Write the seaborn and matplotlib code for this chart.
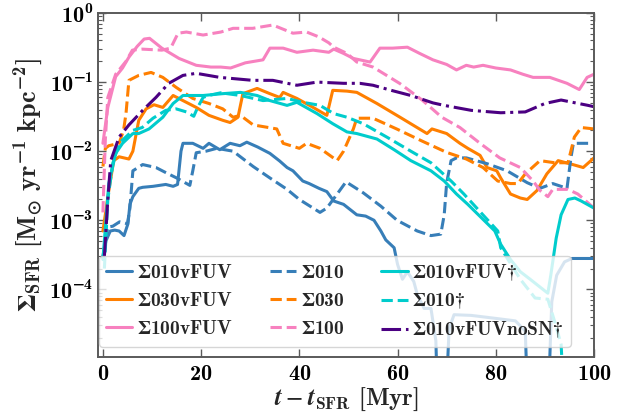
import numpy as np
import matplotlib
matplotlib.use("Agg")
import matplotlib.pyplot as plt
import seaborn as sns
from matplotlib.ticker import FixedLocator, FuncFormatter, LogLocator, NullFormatter
from matplotlib.font_manager import FontProperties
from matplotlib.mathtext import MathTextParser

# ---------------- data (time in Myr, SFR surface density) ----------------
t_s010vfuv = [0, 0.6, 1.5, 2.4, 3.3, 4.3, 5.1, 5.5, 6.1, 7.3, 8.1, 10.2, 12.8, 14.3, 15.2,
              15.9, 16.3, 18.3, 20.4, 21.6, 23.8, 25.9, 27.9, 29.3, 31.5, 34, 36, 37.5, 38.7,
              40.7, 42, 44, 45.6, 47, 49, 51.7, 53.5, 55.2, 56.6, 57.6, 59.3, 60, 61, 62, 63.3,
              64, 65.4, 66.8, 67.8, 68.3, 69.6, 70.5, 71.5, 75, 80, 84, 86, 86.7, 90.5, 91.4,
              92.4, 94, 95.5, 100]
sfr_s010vfuv = [2.8e-4, 5e-4, 7e-4, 7.2e-4, 7e-4, 6e-4, 8.9e-4, 1.7e-3, 2.2e-3, 2.9e-3, 3e-3,
                3.1e-3, 3.3e-3, 3.1e-3, 3.3e-3, 1e-2, 1.3e-2, 1.3e-2, 1.1e-2, 1.3e-2, 1.05e-2,
                1.3e-2, 1.2e-2, 1.35e-2, 1.15e-2, 9.3e-3, 7.2e-3, 5.8e-3, 5.2e-3, 3.7e-3, 3.4e-3,
                2.9e-3, 2.6e-3, 1.9e-3, 1.7e-3, 1.2e-3, 1.15e-3, 1e-3, 7e-4, 5.2e-4, 4e-4, 2.3e-4,
                1.4e-4, 1.8e-4, 1.3e-4, 8.5e-5, 5.3e-5, 5.3e-5, 1.8e-5, 1e-6, 1e-6, 2.7e-5, 4.3e-5,
                4.2e-5, 3.8e-5, 3.5e-5, 2.5e-5, 1e-6, 1e-6, 6.6e-5, 1.6e-4, 2.5e-4, 2.8e-4, 2.8e-4]

t_s030vfuv = [0, 1.2, 2.2, 3.3, 5.3, 6.1, 7.3, 8.8, 10.4, 12.2, 14.3, 16.3, 19, 21.6, 24.4,
              25.9, 27.5, 28.5, 31.4, 34, 36, 36.7, 39.5, 42.8, 45.6, 46.8, 49.7, 51.7, 55.8,
              60.5, 66, 67, 70, 72.7, 74.3, 76.8, 78.2, 80.2, 81, 83, 85, 86.4, 88.4, 90.4,
              92.7, 95.7, 97.8, 100]
sfr_s030vfuv = [7e-4, 2.7e-3, 7.3e-3, 8.3e-3, 7.7e-3, 1e-2, 2.8e-2, 4.1e-2, 4.7e-2, 4.3e-2,
                6.4e-2, 5.4e-2, 4.3e-2, 3.3e-2, 2.8e-2, 2.6e-2, 3.1e-2, 6.8e-2, 8.1e-2, 6.8e-2,
                6e-2, 7.1e-2, 5.8e-2, 4.3e-2, 3.3e-2, 7.6e-2, 7.4e-2, 7.1e-2, 4.9e-2, 3.1e-2,
                1.8e-2, 2.1e-2, 1.8e-2, 1.3e-2, 1.1e-2, 8.7e-3, 5.8e-3, 5.2e-3, 4.1e-3, 2.4e-3,
                2.1e-3, 2e-3, 2.7e-3, 4.7e-3, 7.3e-3, 6.4e-3, 5.8e-3, 8e-3]

t_s100vfuv = [0, 1, 2.6, 4, 5.3, 7, 8.4, 9.5, 12, 15.5, 19, 22, 24, 26, 29, 32.6, 34, 36.7,
              39.5, 42.8, 46, 47, 49, 51, 54.4, 56.4, 59, 62, 64.5, 67.2, 70, 72, 74, 75.5,
              77.4, 80, 83, 85.5, 87.6, 91, 94.5, 97, 98.6, 100]
sfr_s100vfuv = [0.013, 0.043, 0.12, 0.16, 0.23, 0.33, 0.42, 0.43, 0.31, 0.22, 0.175, 0.165,
                0.165, 0.16, 0.19, 0.21, 0.31, 0.31, 0.27, 0.29, 0.27, 0.3, 0.26, 0.22, 0.195,
                0.31, 0.31, 0.32, 0.26, 0.21, 0.18, 0.15, 0.175, 0.165, 0.175, 0.16, 0.15, 0.13,
                0.117, 0.117, 0.096, 0.078, 0.117, 0.13]

t_s010 = [0, 1, 2, 3.4, 5, 5.5, 6.1, 8.1, 10.8, 12.8, 15, 17.7, 18.3, 19, 21, 23.2, 26.5,
          30.6, 34, 37.5, 40, 42.8, 44.2, 45.6, 47.7, 49.5, 53, 56.6, 59.9, 64, 66.8, 68.8,
          69.5, 70, 70.9, 72, 74, 78.2, 82.3, 86.4, 89, 91.6, 94.5, 95.3, 95.8, 100]
sfr_s010 = [3e-4, 8e-4, 8.2e-4, 9.5e-4, 8.9e-4, 1.5e-3, 5.2e-3, 6.4e-3, 5.8e-3, 4.9e-3, 4.1e-3,
            3.2e-3, 5.2e-3, 9.5e-3, 1.0e-2, 1.1e-2, 1.0e-2, 6e-3, 4.1e-3, 2.8e-3, 2e-3, 1.5e-3,
            1.3e-3, 1.5e-3, 2.4e-3, 3.6e-3, 2.5e-3, 1.6e-3, 1e-3, 7e-4, 6e-4, 6.3e-4, 1.2e-3,
            3.5e-3, 7.3e-3, 8e-3, 8e-3, 6.6e-3, 5.2e-3, 3.5e-3, 2.9e-3, 3.4e-3, 2.9e-3, 8e-3,
            1.3e-2, 1.3e-2]

t_s030 = [0, 0.5, 1.2, 3.3, 4.2, 4.7, 5.3, 7.3, 9.8, 12.2, 14.9, 18.3, 21.6, 24.4, 26.5, 28,
          30.6, 35.4, 36.7, 40, 41.5, 44.2, 47.7, 49, 51, 51.7, 55, 59.8, 65, 70, 74, 77.4,
          80.4, 83, 84.5, 86, 89, 92, 94.7, 96, 97.4, 100]
sfr_s030 = [6e-3, 1.1e-2, 1.2e-2, 1.3e-2, 2e-2, 3.5e-2, 0.106, 0.125, 0.138, 0.117, 0.084,
            0.058, 0.049, 0.041, 0.031, 0.033, 0.024, 0.021, 0.013, 0.011, 0.013, 0.011, 7.3e-3,
            1e-2, 0.021, 0.03, 0.03, 0.021, 0.014, 9.6e-3, 7.7e-3, 5.8e-3, 3.7e-3, 3.4e-3,
            3.4e-3, 4.7e-3, 7.3e-3, 6.8e-3, 6.8e-3, 0.016, 0.022, 0.021]

t_s100 = [0, 0.5, 1, 2.6, 4.7, 6, 8, 12, 13.8, 15.3, 17, 20.4, 24, 26.5, 30.5, 34.6, 38.7,
          41.5, 44, 46, 47, 49.7, 51.7, 55, 60.5, 65, 69, 72.7, 76.8, 80.8, 85, 87.6, 89,
          90.6, 91.6, 94.7, 96.7, 98, 100]
sfr_s100 = [1.3e-3, 0.015, 0.06, 0.13, 0.2, 0.29, 0.3, 0.29, 0.31, 0.51, 0.53, 0.48, 0.53,
            0.6, 0.6, 0.67, 0.51, 0.53, 0.45, 0.37, 0.32, 0.26, 0.195, 0.165, 0.095, 0.055,
            0.031, 0.022, 0.013, 8e-3, 5.8e-3, 3.7e-3, 2.7e-3, 2.2e-3, 2.8e-3, 2.8e-3, 2.4e-3,
            2e-3, 1.5e-3]

t_s010vfuv_d = [0, 1.2, 2.6, 4, 6.1, 7.3, 9.4, 12.2, 14.3, 16.3, 20.4, 24.4, 28, 31.4, 34,
                37.5, 39.5, 43.6, 46.8, 49.7, 51.7, 55.8, 59.3, 62.7, 66.8, 69.5, 72, 74.3, 77,
                79.8, 81, 83, 85, 87, 90, 90.6, 91.2, 92.3, 93.3, 94.7, 96.1, 97.4, 100]
sfr_s010vfuv_d = [2.7e-4, 3.4e-3, 9.3e-3, 0.013, 0.018, 0.018, 0.021, 0.031, 0.049, 0.064,
                  0.064, 0.068, 0.071, 0.064, 0.054, 0.046, 0.051, 0.035, 0.025, 0.019, 0.018,
                  0.015, 0.0105, 7.3e-3, 5.2e-3, 3.7e-3, 2.4e-3, 1.7e-3, 1.1e-3, 7e-4, 4.5e-4,
                  2.7e-4, 1.8e-4, 1.4e-4, 9.5e-5, 8.8e-5, 1.6e-4, 5.5e-4, 1.2e-3, 2e-3, 2.1e-3,
                  1.9e-3, 1.5e-3]

t_s010_d = [0.3, 1, 2, 3.3, 6.1, 8, 10.2, 12.8, 14.9, 17, 18.5, 19.3, 20.4, 21.5, 24, 28,
            32.6, 37.5, 40.7, 44.2, 47, 49.7, 53, 57.8, 62.7, 66.8, 70.9, 73.5, 78.4, 80.4,
            81, 82.5, 85, 88, 90.6, 92, 93.3, 94.2]
sfr_s010_d = [2e-4, 2e-3, 6.6e-3, 0.013, 0.02, 0.022, 0.03, 0.039, 0.041, 0.037, 0.032, 0.043,
              0.06, 0.064, 0.07, 0.064, 0.054, 0.058, 0.051, 0.046, 0.035, 0.031, 0.025, 0.016,
              0.01, 6.8e-3, 3.7e-3, 2.4e-3, 1e-3, 7e-4, 4e-4, 2.7e-4, 1.4e-4, 7.5e-5, 7.2e-5,
              3.4e-5, 1.6e-5, 1e-6]

t_nosn = [0.3, 1, 1.6, 3.3, 5.3, 8.1, 10.8, 13.4, 16.3, 19, 23.8, 30.5, 34.6, 39.5, 43.6,
          49, 52.3, 55, 59, 62.7, 67.2, 69.5, 75, 81, 86, 90, 93.3, 98.8, 100]
sfr_nosn = [3e-4, 2e-3, 7.3e-3, 0.016, 0.024, 0.039, 0.06, 0.096, 0.125, 0.134, 0.117, 0.106,
            0.106, 0.09, 0.1, 0.096, 0.096, 0.09, 0.075, 0.064, 0.05, 0.046, 0.039, 0.036,
            0.037, 0.049, 0.055, 0.046, 0.044]

labels = [r"$\mathbf{\Sigma 010vFUV}$", r"$\mathbf{\Sigma 030vFUV}$", r"$\mathbf{\Sigma 100vFUV}$",
          r"$\mathbf{\Sigma 010}$", r"$\mathbf{\Sigma 030}$", r"$\mathbf{\Sigma 100}$",
          r"$\mathbf{\Sigma 010vFUV†}$", r"$\mathbf{\Sigma 010†}$",
          r"$\mathbf{\Sigma 010vFUVnoSN†}$"]
times = [t_s010vfuv, t_s030vfuv, t_s100vfuv, t_s010, t_s030, t_s100,
         t_s010vfuv_d, t_s010_d, t_nosn]
values = [sfr_s010vfuv, sfr_s030vfuv, sfr_s100vfuv, sfr_s010, sfr_s030, sfr_s100,
          sfr_s010vfuv_d, sfr_s010_d, sfr_nosn]

BLUE, ORANGE, PINK, CYAN, INDIGO = "#377eb8", "#ff7f00", "#f781bf", "#00cccc", "#4b0082"
colors = [BLUE, ORANGE, PINK, BLUE, ORANGE, PINK, CYAN, CYAN, INDIGO]
styles = ["-", "-", "-", "--", "--", "--", "-", "--", "-."]

# ---------------- style ----------------
sns.set_theme(style="ticks")
rc = {
    "mathtext.fontset": "custom",
    "mathtext.rm": "cmb10",
    "mathtext.bf": "cmb10",
    "mathtext.it": "cmmi10",
    "mathtext.fallback": "stix",
    "axes.edgecolor": "#5a5a5a",
    "axes.linewidth": 1.4,
    "xtick.color": "#5a5a5a",
    "ytick.color": "#5a5a5a",
    "xtick.labelcolor": "black",
    "ytick.labelcolor": "black",
}
if "mathtext.bfit" in plt.rcParams:
    rc["mathtext.bfit"] = "STIXGeneral:italic:bold"
plt.rcParams.update(rc)

fig = plt.figure(figsize=(6.27, 4.15), dpi=100)
ax = fig.add_axes([98 / 627, 1 - 357 / 415, 496 / 627, 344 / 415])

for t, v, c, ls, lab in zip(times, values, colors, styles, labels):
    sns.lineplot(x=t, y=v, ax=ax, color=c, linestyle=ls, linewidth=2.2,
                 label=lab, estimator=None, sort=False, legend=False)

ax.set_yscale("log")
ax.set_xlim(-1, 100)
ax.set_ylim(1.05e-5, 1.0)

ax.xaxis.set_major_locator(FixedLocator([0, 20, 40, 60, 80, 100]))
ax.xaxis.set_major_formatter(FuncFormatter(lambda v, p: r"$\mathbf{%d}$" % round(v)))
ax.yaxis.set_major_locator(FixedLocator([1e-4, 1e-3, 1e-2, 1e-1, 1e0]))
ax.yaxis.set_major_formatter(
    FuncFormatter(lambda v, p: r"$\mathbf{10^{%d}}$" % round(np.log10(v))))
ax.yaxis.set_minor_locator(LogLocator(base=10, subs=np.arange(2, 10), numticks=20))
ax.yaxis.set_minor_formatter(NullFormatter())
ax.tick_params(which="both", direction="in", top=True, right=True, labelsize=16)
ax.tick_params(which="major", length=6, width=1.0)
ax.tick_params(which="minor", length=3, width=0.8)
ax.tick_params(axis="x", pad=5)

# bold-italic time symbol when mathtext supports it
xlab = r"$\mathbfit{t} - \mathbfit{t}_{\mathbf{SFR}}\ \mathbf{[Myr]}$"
try:
    MathTextParser("agg").parse(xlab, dpi=100, prop=FontProperties(size=16))
except Exception:
    xlab = r"$t - t_{\mathbf{SFR}}\ \mathbf{[Myr]}$"
ax.set_xlabel(xlab, fontsize=18, labelpad=1)
ax.set_ylabel(r"$\mathbf{\Sigma_{SFR}\ [M_{\odot}\ yr^{-1}\ kpc^{-2}]}$", fontsize=19, labelpad=3)

handles = ax.get_lines()[:9]
leg = ax.legend(handles, labels, ncol=3, loc="lower left", bbox_to_anchor=(0.002, 0.029),
                borderaxespad=0, fontsize=14, handlelength=1.35, handletextpad=0.25,
                columnspacing=1.9, labelspacing=0.45, borderpad=0.35, framealpha=0.8,
                edgecolor="#cccccc", fancybox=True)

fig.savefig("out.png", dpi=100)
